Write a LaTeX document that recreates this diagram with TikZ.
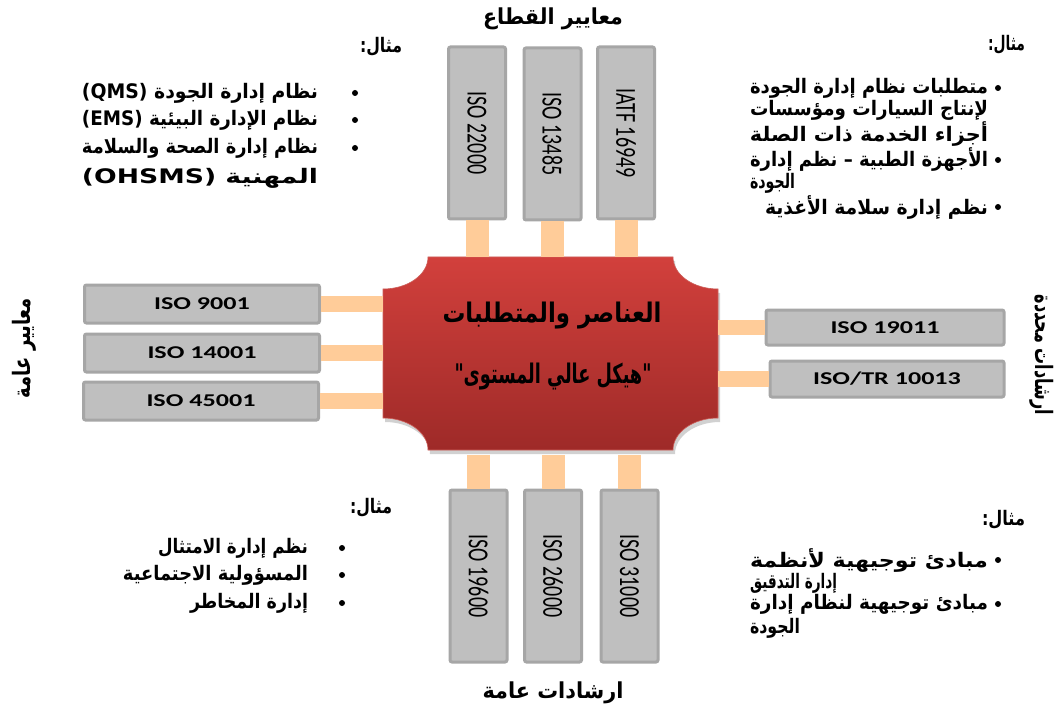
\documentclass[tikz,border=0pt]{standalone}
\usepackage{fontspec}
\usetikzlibrary{calc}
\TeXXeTstate=1
\newfontfamily\arfont[Script=Arabic]{DejaVu Sans}
\setsansfont{Carlito}
\definecolor{boxfill}{RGB}{191,191,191}
\definecolor{boxline}{RGB}{166,166,166}
\definecolor{conn}{RGB}{255,204,153}
\definecolor{redtop}{RGB}{210,64,60}
\definecolor{redbot}{RGB}{158,42,40}
\newcommand{\arline}[2]{\resizebox{#1pt}{\height}{\arfont\bfseries #2}}
\newcommand{\arrot}[2]{\resizebox{#1pt}{1.2\height}{\arfont\bfseries #2}}
\begin{document}
\begin{tikzpicture}[x=1pt,y=-1pt,
  sbox/.style={draw=boxline, fill=boxfill, line width=3pt, rounded corners=2pt, inner sep=0pt},
  hbox/.style={sbox, minimum width=235pt, minimum height=38pt, font=\sffamily\bfseries\fontsize{18}{18}\selectfont},
  vbox/.style={sbox, minimum width=57pt, minimum height=172pt, font=\sffamily\fontsize{20}{20}\selectfont},
  link/.style={draw=conn, line width=23pt},
  hlink/.style={draw=conn, line width=15.5pt},
  artxt/.style={inner sep=0pt, outer sep=0pt, font=\fontsize{20}{20}\selectfont},
  bigtxt/.style={inner sep=0pt, outer sep=0pt, font=\fontsize{27}{27}\selectfont},
  labtxt/.style={inner sep=0pt, outer sep=0pt, font=\fontsize{22}{22}\selectfont},
  dot/.style={circle, fill=black, inner sep=0pt, minimum size=6pt},
  core shape/.style={insert path={(428,257) -- (673,257) arc[start angle=180,end angle=90,x radius=45,y radius=32]
     -- (718,418) arc[start angle=270,end angle=180,x radius=45,y radius=32]
     -- (428,450) arc[start angle=0,end angle=-90,x radius=45,y radius=32]
     -- (383,289) arc[start angle=90,end angle=0,x radius=45,y radius=32] -- cycle}}
]
\fill[white] (0,0) rectangle (1054,711);
\useasboundingbox (0,0) rectangle (1054,711);

% central element
\node[minimum width=335pt, minimum height=193pt, inner sep=0pt, outer sep=0pt] (core) at (550.5,353.5) {};
\begin{scope}[shift={(2,4)}]
\fill[black, opacity=0.18, core shape];
\end{scope}
\shade[top color=redtop, bottom color=redbot, draw={rgb,255:red,205;green,95;blue,90}, line width=0.6pt, core shape];
\node[bigtxt] (title1) at (552,316) {\arline{219}{\beginR العناصر والمتطلبات\endR}};
\node[bigtxt] (title2) at (553,377) {\arline{197}{\beginR "\kern0pt هيكل عالي المستوى\kern0pt "\endR}};

% top boxes
\node[vbox] (t1) at (477,133) {\rotatebox{-90}{\scalebox{1}[1.45]{ISO 22000}}};
\node[vbox] (t2) at (552.5,134) {\rotatebox{-90}{\scalebox{1}[1.45]{ISO 13485}}};
\node[vbox] (t3) at (626,133) {\rotatebox{-90}{\scalebox{1}[1.45]{IATF 16949}}};
% bottom boxes
\node[vbox] (b1) at (478.5,576) {\rotatebox{-90}{\scalebox{1}[1.45]{ISO 19600}}};
\node[vbox] (b2) at (553,576) {\rotatebox{-90}{\scalebox{1}[1.45]{ISO 26000}}};
\node[vbox] (b3) at (629.5,576) {\rotatebox{-90}{\scalebox{1}[1.45]{ISO 31000}}};
% left boxes
\node[hbox] (l1) at (202,304) {\scalebox{1.45}[1]{ISO 9001}};
\node[hbox] (l2) at (202,353) {\scalebox{1.45}[1]{ISO 14001}};
\node[hbox] (l3) at (201,401) {\scalebox{1.45}[1]{ISO 45001}};
% right boxes
\node[hbox, minimum width=238pt, minimum height=35pt] (r1) at (885,327.5) {\scalebox{1.45}[1]{ISO 19011}};
\node[hbox, minimum width=234pt, minimum height=36pt] (r2) at (887,379) {\scalebox{1.45}[1]{ISO/TR 10013}};

% connectors
\draw[link] (t1.south) -- (t1.south |- core.north);
\draw[link] (t2.south) -- (t2.south |- core.north);
\draw[link] (t3.south) -- (t3.south |- core.north);
\draw[link, shorten >=5pt] (b1.north) -- (b1.north |- core.south);
\draw[link, shorten >=5pt] (b2.north) -- (b2.north |- core.south);
\draw[link, shorten >=5pt] (b3.north) -- (b3.north |- core.south);
\draw[hlink] (l1.east) -- (l1.east -| core.west);
\draw[hlink] (l2.east) -- (l2.east -| core.west);
\draw[hlink] (l3.east) -- (l3.east -| core.west);
\draw[hlink] (r1.west) -- (r1.west -| core.east);
\draw[hlink] (r2.west) -- (r2.west -| core.east);

% side labels
\node[labtxt] (toplab) at (553,19) {\arline{140}{\beginR معايير القطاع\endR}};
\node[labtxt] (botlab) at (553,693) {\arline{141}{\beginR ارشادات عامة\endR}};
\node[artxt, rotate=90] (leftlab) at (24,348) {\arrot{100}{\beginR معايير عامة\endR}};
\node[artxt, rotate=-90] (rightlab) at (1042,355) {\arrot{120}{\beginR ارشادات محددة\endR}};

% top-left examples
\node[artxt, anchor=east] (tlh) at (402,47) {\arline{42}{\beginR مثال\kern0pt :\endR}};
\node[dot] (tlb1) at (355,93) {};
\node[dot] (tlb2) at (355,120) {};
\node[dot] (tlb3) at (355,148) {};
\node[artxt, anchor=east] (tl1) at (318,93) {\arline{236}{\beginR نظام إدارة الجودة \beginL(QMS)\endL\endR}};
\node[artxt, anchor=east] (tl2) at (318,120) {\arline{236}{\beginR نظام الإدارة البيئية \beginL(EMS)\endL\endR}};
\node[artxt, anchor=east] (tl3) at (318,148) {\arline{236}{\beginR نظام إدارة الصحة والسلامة\endR}};
\node[artxt, anchor=east] (tl4) at (318,178) {\arline{236}{\beginR المهنية \beginL(OHSMS)\endL\endR}};

% top-right examples
\node[artxt, anchor=east] (trh) at (1025,45) {\arline{37}{\beginR مثال\kern0pt :\endR}};
\node[dot] (trb1) at (998,88) {};
\node[dot] (trb2) at (998,160) {};
\node[dot] (trb3) at (998,207) {};
\node[artxt, anchor=east] (tr1) at (988,88) {\arline{238}{\beginR متطلبات نظام إدارة الجودة\endR}};
\node[artxt, anchor=east] (tr2) at (988,110) {\arline{238}{\beginR لإنتاج السيارات ومؤسسات\endR}};
\node[artxt, anchor=east] (tr3) at (988,134) {\arline{238}{\beginR أجزاء الخدمة ذات الصلة\endR}};
\node[artxt, anchor=east] (tr4) at (988,160) {\arline{238}{\beginR الأجهزة الطبية – نظم إدارة\endR}};
\node[artxt, anchor=west] (tr5) at (750,183) {\arline{45}{\beginR الجودة\endR}};
\node[artxt, anchor=east] (tr6) at (988,207) {\arline{223}{\beginR نظم إدارة سلامة الأغذية\endR}};

% bottom-left examples
\node[artxt, anchor=east] (blh) at (392,508) {\arline{42}{\beginR مثال\kern0pt :\endR}};
\node[dot] (blb1) at (342,548) {};
\node[dot] (blb2) at (342,575) {};
\node[dot] (blb3) at (342,603) {};
\node[artxt, anchor=east] (bl1) at (308,548) {\arline{150}{\beginR نظم إدارة الامتثال\endR}};
\node[artxt, anchor=east] (bl2) at (308,575) {\arline{185}{\beginR المسؤولية الاجتماعية\endR}};
\node[artxt, anchor=east] (bl3) at (308,603) {\arline{118}{\beginR إدارة المخاطر\endR}};

% bottom-right examples
\node[artxt, anchor=east] (brh) at (1025,520) {\arline{43}{\beginR مثال\kern0pt :\endR}};
\node[dot] (brb1) at (998,560) {};
\node[dot] (brb2) at (998,604) {};
\node[artxt, anchor=east] (br1) at (988,560) {\arline{238}{\beginR مبادئ توجيهية لأنظمة\endR}};
\node[artxt, anchor=west] (br2) at (750,583) {\arline{87}{\beginR إدارة التدقيق\endR}};
\node[artxt, anchor=east] (br3) at (988,604) {\arline{238}{\beginR مبادئ توجيهية لنظام إدارة\endR}};
\node[artxt, anchor=west] (br4) at (750,628) {\arline{50}{\beginR الجودة\endR}};
\end{tikzpicture}
\end{document}
